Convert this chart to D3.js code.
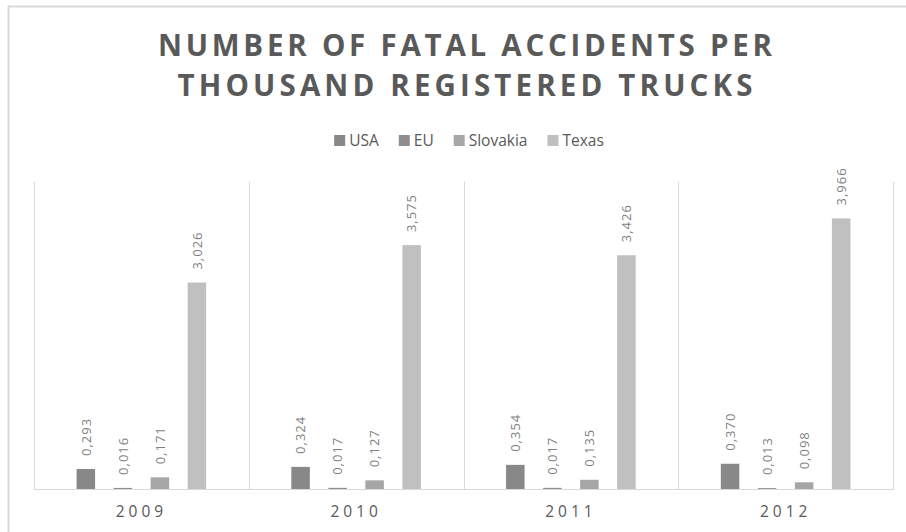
<!DOCTYPE html>
<html>
<head>
<meta charset="utf-8">
<script src="https://cdn.jsdelivr.net/npm/d3@7/dist/d3.min.js"></script>
<style>
  body { margin: 0; background: #fff; }
  svg { display: block; font-family: "Open Sans", "Noto Sans", sans-serif; }
</style>
</head>
<body>
<div class="container"></div>
<script>
const years = ["2009", "2010", "2011", "2012"];
const seriesNames = ["USA", "EU", "Slovakia", "Texas"];
const usa = [0.293, 0.324, 0.354, 0.370];
const eu = [0.016, 0.017, 0.017, 0.013];
const slovakia = [0.171, 0.127, 0.135, 0.098];
const texas = [3.026, 3.575, 3.426, 3.966];
const titleLines = ["NUMBER OF FATAL ACCIDENTS PER", "THOUSAND REGISTERED TRUCKS"];

const colors = ["#888888", "#8e8e8e", "#a6a6a6", "#c0c0c0"];
const seriesValues = [usa, eu, slovakia, texas];

const width = 906, height = 532;
const plot = {left: 34, right: 893, top: 182, bottom: 489};

const svg = d3.select('.container')
    .append('svg')
    .attr('width', width)
    .attr('height', height);

// chart frame (right/bottom edges fall outside the picture)
svg.append('rect')
    .attr('x', 8.5).attr('y', 6.5)
    .attr('width', 1000).attr('height', 1000)
    .attr('fill', 'none')
    .attr('stroke', '#d9d9d9')
    .attr('stroke-width', 2);

// title
svg.selectAll('.title')
    .data(titleLines)
    .enter().append('text')
    .attr('class', 'title')
    .attr('x', 465)
    .attr('y', (d, i) => 56 + i * 40)
    .attr('text-anchor', 'middle')
    .attr('font-size', 29.5)
    .attr('font-weight', 700)
    .attr('fill', '#595959')
    .attr('textLength', (d, i) => i === 0 ? 614 : 575)
    .attr('lengthAdjust', 'spacing')
    .text(d => d);

const xScale = d3.scaleBand()
    .domain(years)
    .range([plot.left, plot.right]);

const xInner = d3.scaleBand()
    .domain(seriesNames)
    .range([0, xScale.bandwidth()])
    .paddingInner(0.5)
    .paddingOuter(1.15);

const yScale = d3.scaleLinear()
    .domain([0, 4.5])
    .range([plot.bottom, plot.top]);

// category separators
const seps = years.map(y => xScale(y)).concat([plot.right]);
svg.selectAll('.sep')
    .data(seps)
    .enter().append('line')
    .attr('x1', d => Math.round(d) + 0.5).attr('x2', d => Math.round(d) + 0.5)
    .attr('y1', plot.top).attr('y2', plot.bottom)
    .attr('stroke', '#d9d9d9');

const fmt = v => d3.format('.3f')(v).replace('.', ',');

seriesNames.forEach((name, si) => {
    const g = svg.append('g');
    g.selectAll('rect')
        .data(seriesValues[si])
        .enter().append('rect')
        .attr('x', (d, i) => xScale(years[i]) + xInner(name))
        .attr('y', d => yScale(d))
        .attr('width', xInner.bandwidth())
        .attr('height', d => yScale(0) - yScale(d))
        .attr('fill', colors[si]);

    g.selectAll('text')
        .data(seriesValues[si])
        .enter().append('text')
        .attr('transform', (d, i) => {
            const cx = xScale(years[i]) + xInner(name) + xInner.bandwidth() / 2;
            return `translate(${cx},${yScale(d) - 13}) rotate(-90)`;
        })
        .attr('dy', '0.36em')
        .attr('font-size', 13)
        .attr('letter-spacing', 1)
        .attr('fill', '#7f7f7f')
        .text(d => fmt(d));
});

// baseline
svg.append('line')
    .attr('x1', plot.left).attr('x2', plot.right + 1)
    .attr('y1', plot.bottom + 0.5).attr('y2', plot.bottom + 0.5)
    .attr('stroke', '#d9d9d9');

// x axis labels
const xAxis = d3.axisBottom(xScale).tickSize(0).tickPadding(0);
const axisG = svg.append('g')
    .attr('transform', `translate(0,${plot.bottom})`)
    .call(xAxis);
axisG.select('.domain').remove();
axisG.selectAll('text')
    .attr('y', 28)
    .attr('dy', 0)
    .attr('font-family', '"Open Sans", sans-serif')
    .attr('font-size', 15.5)
    .attr('letter-spacing', 4)
    .attr('fill', '#595959');

// legend
const legend = svg.append('g').attr('transform', 'translate(0,146)');
const items = legend.selectAll('g')
    .data(seriesNames)
    .enter().append('g');
items.append('rect')
    .attr('width', 11).attr('height', 11)
    .attr('y', -11)
    .attr('fill', (d, i) => colors[i]);
items.append('text')
    .attr('x', 15)
    .attr('font-size', 15.5)
    .attr('fill', '#595959')
    .text(d => d);

let offset = 0;
const positions = [];
items.each(function () {
    const w = d3.select(this).select('text').node().getComputedTextLength();
    positions.push(offset);
    offset += 15 + w + 20;
});
const total = offset - 20;
const startX = 469 - total / 2;
items.attr('transform', (d, i) => `translate(${startX + positions[i]},0)`);
</script>
</body>
</html>
